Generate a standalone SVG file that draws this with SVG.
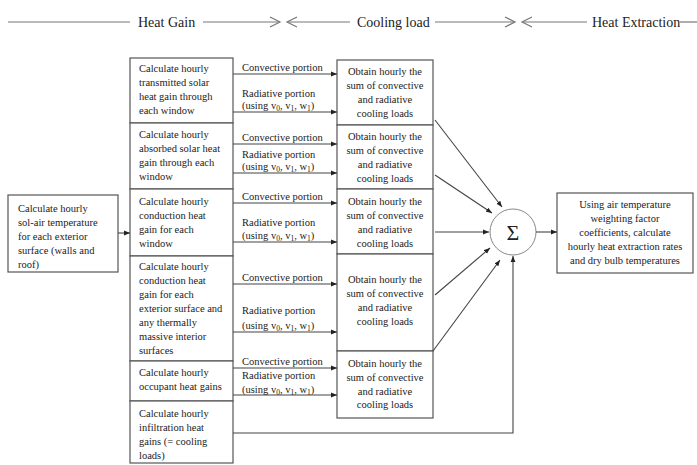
<svg xmlns="http://www.w3.org/2000/svg" width="697" height="465" viewBox="0 0 697 465">
<defs>
<style>
text{font-family:"Liberation Serif","Times New Roman",serif;fill:#222;font-size:10.5px}
.h{font-size:14px}
.c{text-anchor:middle}
.box{fill:#fff;stroke:#555;stroke-width:1.2}
.ln{fill:none;stroke:#444;stroke-width:1.1}
.hd{fill:none;stroke:#777;stroke-width:1.2}
.s{font-size:7.5px}
</style>
<marker id="a" viewBox="0 0 10 10" refX="10" refY="5" markerWidth="6" markerHeight="6" orient="auto" markerUnits="userSpaceOnUse"><path d="M0,1 L10,5 L0,9 z" fill="#222"/></marker>
</defs>
<rect width="697" height="465" fill="#fff"/>
<g id="header">
<line class="hd" x1="8" y1="22" x2="130" y2="22"/>
<text class="h" x="138" y="27">Heat Gain</text>
<line class="hd" x1="203" y1="22" x2="279" y2="22"/>
<polyline class="hd" points="270,17 280,22 270,27"/>
<polyline class="hd" points="297,17 287,22 297,27"/>
<line class="hd" x1="288" y1="22" x2="350" y2="22"/>
<text class="h" x="357" y="27">Cooling load</text>
<line class="hd" x1="435" y1="22" x2="514" y2="22"/>
<polyline class="hd" points="505,17 515,22 505,27"/>
<polyline class="hd" points="532,17 522,22 532,27"/>
<line class="hd" x1="523" y1="22" x2="587" y2="22"/>
<text class="h" x="592" y="27">Heat Extraction</text>
<line class="hd" x1="680" y1="22" x2="697" y2="22"/>
</g>
<g id="n-solair">
<rect class="box" x="8" y="195" width="110" height="77"/>
<text x="18" y="212">Calculate hourly</text>
<text x="18" y="226">sol-air temperature</text>
<text x="18" y="240">for each exterior</text>
<text x="18" y="254">surface (walls and</text>
<text x="18" y="268">roof)</text>
</g>
<g id="n-g1">
<rect class="box" x="130" y="58" width="103" height="65"/>
<text x="139" y="72">Calculate hourly</text>
<text x="139" y="86">transmitted solar</text>
<text x="139" y="100">heat gain through</text>
<text x="139" y="114">each window</text>
</g>
<g id="n-g2">
<rect class="box" x="130" y="123" width="103" height="66"/>
<text x="139" y="138">Calculate hourly</text>
<text x="139" y="152">absorbed solar heat</text>
<text x="139" y="166">gain through each</text>
<text x="139" y="180">window</text>
</g>
<g id="n-g3">
<rect class="box" x="130" y="189" width="103" height="67"/>
<text x="139" y="205">Calculate hourly</text>
<text x="139" y="219">conduction heat</text>
<text x="139" y="233">gain for each</text>
<text x="139" y="247">window</text>
</g>
<g id="n-g4">
<rect class="box" x="130" y="256" width="103" height="105"/>
<text x="139" y="270">Calculate hourly</text>
<text x="139" y="284">conduction heat</text>
<text x="139" y="298">gain for each</text>
<text x="139" y="312">exterior surface and</text>
<text x="139" y="326">any thermally</text>
<text x="139" y="340">massive interior</text>
<text x="139" y="354">surfaces</text>
</g>
<g id="n-g5">
<rect class="box" x="130" y="361" width="103" height="40"/>
<text x="139" y="376">Calculate hourly</text>
<text x="139" y="390">occupant heat gains</text>
</g>
<g id="n-g6">
<rect class="box" x="130" y="401" width="103" height="62"/>
<text x="139" y="417">Calculate hourly</text>
<text x="139" y="431">infiltration heat</text>
<text x="139" y="445">gains (= cooling</text>
<text x="139" y="459">loads)</text>
</g>
<g id="n-o1">
<rect class="box" x="337" y="60" width="96" height="65"/>
<text class="c" x="385" y="75">Obtain hourly the</text>
<text class="c" x="385" y="89">sum of convective</text>
<text class="c" x="385" y="103">and radiative</text>
<text class="c" x="385" y="117">cooling loads</text>
</g>
<g id="n-o2">
<rect class="box" x="337" y="125" width="96" height="64"/>
<text class="c" x="385" y="140">Obtain hourly the</text>
<text class="c" x="385" y="154">sum of convective</text>
<text class="c" x="385" y="168">and radiative</text>
<text class="c" x="385" y="182">cooling loads</text>
</g>
<g id="n-o3">
<rect class="box" x="337" y="189" width="96" height="65"/>
<text class="c" x="385" y="205">Obtain hourly the</text>
<text class="c" x="385" y="219">sum of convective</text>
<text class="c" x="385" y="233">and radiative</text>
<text class="c" x="385" y="247">cooling loads</text>
</g>
<g id="n-o4">
<rect class="box" x="337" y="254" width="96" height="97"/>
<text class="c" x="385" y="283">Obtain hourly the</text>
<text class="c" x="385" y="297">sum of convective</text>
<text class="c" x="385" y="311">and radiative</text>
<text class="c" x="385" y="325">cooling loads</text>
</g>
<g id="n-o5">
<rect class="box" x="337" y="351" width="96" height="67"/>
<text class="c" x="385" y="367">Obtain hourly the</text>
<text class="c" x="385" y="381">sum of convective</text>
<text class="c" x="385" y="395">and radiative</text>
<text class="c" x="385" y="408">cooling loads</text>
</g>
<g id="n-sum">
<circle cx="513" cy="232" r="23" fill="#fff" stroke="#888" stroke-width="1"/>
<text class="c" x="513" y="240" style="font-size:22px">Σ</text>
</g>
<g id="n-extract">
<rect class="box" x="557" y="193" width="136" height="80"/>
<text class="c" x="625" y="208">Using air temperature</text>
<text class="c" x="625" y="222">weighting factor</text>
<text class="c" x="625" y="236">coefficients, calculate</text>
<text class="c" x="625" y="250">hourly heat extraction rates</text>
<text class="c" x="625" y="264">and dry bulb temperatures</text>
</g>
<g id="connectors">
<line class="ln" x1="118" y1="233" x2="130" y2="233" marker-end="url(#a)"/>
<line class="ln" x1="233" y1="74" x2="337" y2="74" marker-end="url(#a)"/>
<line class="ln" x1="233" y1="112" x2="337" y2="112" marker-end="url(#a)"/>
<line class="ln" x1="233" y1="144" x2="337" y2="144" marker-end="url(#a)"/>
<line class="ln" x1="233" y1="173" x2="337" y2="173" marker-end="url(#a)"/>
<line class="ln" x1="233" y1="203" x2="337" y2="203" marker-end="url(#a)"/>
<line class="ln" x1="233" y1="242" x2="337" y2="242" marker-end="url(#a)"/>
<line class="ln" x1="233" y1="284" x2="337" y2="284" marker-end="url(#a)"/>
<line class="ln" x1="233" y1="332" x2="337" y2="332" marker-end="url(#a)"/>
<line class="ln" x1="233" y1="368" x2="337" y2="368" marker-end="url(#a)"/>
<line class="ln" x1="233" y1="395" x2="337" y2="395" marker-end="url(#a)"/>
<polyline class="ln" points="233,433 513,433 513,256" stroke="#777" marker-end="url(#a)"/>
<line class="ln" x1="435" y1="120" x2="502" y2="207" marker-end="url(#a)"/>
<line class="ln" x1="435" y1="175" x2="492" y2="213" marker-end="url(#a)"/>
<line class="ln" x1="435" y1="232" x2="489" y2="232" marker-end="url(#a)"/>
<line class="ln" x1="435" y1="295" x2="490" y2="248" marker-end="url(#a)"/>
<line class="ln" x1="433" y1="351" x2="500" y2="260" marker-end="url(#a)"/>
<line class="ln" x1="536" y1="232" x2="557" y2="232" marker-end="url(#a)"/>
<text x="242" y="71">Convective portion</text>
<text x="242" y="97">Radiative portion</text>
<text x="242" y="109">(using v<tspan class="s" dy="2">0</tspan><tspan dy="-2">, v</tspan><tspan class="s" dy="2">1</tspan><tspan dy="-2">, w</tspan><tspan class="s" dy="2">1</tspan><tspan dy="-2">)</tspan></text>
<text x="242" y="141">Convective portion</text>
<text x="242" y="158">Radiative portion</text>
<text x="242" y="170">(using v<tspan class="s" dy="2">0</tspan><tspan dy="-2">, v</tspan><tspan class="s" dy="2">1</tspan><tspan dy="-2">, w</tspan><tspan class="s" dy="2">1</tspan><tspan dy="-2">)</tspan></text>
<text x="242" y="200">Convective portion</text>
<text x="242" y="226">Radiative portion</text>
<text x="242" y="239">(using v<tspan class="s" dy="2">0</tspan><tspan dy="-2">, v</tspan><tspan class="s" dy="2">1</tspan><tspan dy="-2">, w</tspan><tspan class="s" dy="2">1</tspan><tspan dy="-2">)</tspan></text>
<text x="242" y="281">Convective portion</text>
<text x="242" y="314">Radiative portion</text>
<text x="242" y="329">(using v<tspan class="s" dy="2">0</tspan><tspan dy="-2">, v</tspan><tspan class="s" dy="2">1</tspan><tspan dy="-2">, w</tspan><tspan class="s" dy="2">1</tspan><tspan dy="-2">)</tspan></text>
<text x="242" y="365">Convective portion</text>
<text x="242" y="379">Radiative portion</text>
<text x="242" y="393">(using v<tspan class="s" dy="2">0</tspan><tspan dy="-2">, v</tspan><tspan class="s" dy="2">1</tspan><tspan dy="-2">, w</tspan><tspan class="s" dy="2">1</tspan><tspan dy="-2">)</tspan></text>
</g>
</svg>
